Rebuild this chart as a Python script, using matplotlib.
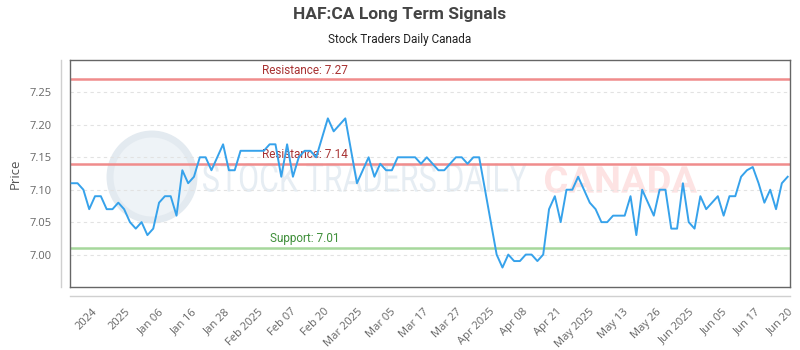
import numpy as np
import matplotlib
matplotlib.use('Agg')
import matplotlib.pyplot as plt
from matplotlib.lines import Line2D
from matplotlib.patches import Ellipse, PathPatch
from matplotlib.textpath import TextPath
from matplotlib.font_manager import FontProperties
from matplotlib.transforms import Affine2D

# closing prices (one per trading day)
prices = [7.11, 7.11, 7.10, 7.07, 7.09, 7.09, 7.07, 7.07, 7.08, 7.07, 7.05, 7.04, 7.05, 7.03, 7.04, 7.08,
          7.09, 7.09, 7.06, 7.13, 7.11, 7.12, 7.15, 7.15, 7.13, 7.15, 7.17, 7.13, 7.13, 7.16, 7.16, 7.16,
          7.16, 7.16, 7.17, 7.17, 7.12, 7.17, 7.12, 7.15, 7.16, 7.16, 7.15, 7.18, 7.21, 7.19, 7.20, 7.21,
          7.16, 7.11, 7.13, 7.15, 7.12, 7.14, 7.13, 7.13, 7.15, 7.15, 7.15, 7.15, 7.14, 7.15, 7.14, 7.13,
          7.13, 7.14, 7.15, 7.15, 7.14, 7.15, 7.15, 7.10, 7.05, 7.00, 6.98, 7.00, 6.99, 6.99, 7.00, 7.00,
          6.99, 7.00, 7.07, 7.09, 7.05, 7.10, 7.10, 7.12, 7.10, 7.08, 7.07, 7.05, 7.05, 7.06, 7.06, 7.06,
          7.09, 7.03, 7.10, 7.08, 7.06, 7.10, 7.10, 7.04, 7.04, 7.11, 7.05, 7.04, 7.09, 7.07, 7.08, 7.09,
          7.06, 7.09, 7.09, 7.12, 7.13, 7.135, 7.11, 7.08, 7.10, 7.07, 7.11, 7.12]

tick_labels = ['2024', '2025', 'Jan 06', 'Jan 16', 'Jan 28', 'Feb 2025', 'Feb 07', 'Feb 20',
               'Mar 2025', 'Mar 05', 'Mar 17', 'Mar 27', 'Apr 2025', 'Apr 08', 'Apr 21', 'May 2025',
               'May 13', 'May 26', 'Jun 2025', 'Jun 05', 'Jun 17', 'Jun 20']

resistance_high = 7.27
resistance_low = 7.14
support = 7.01

W, H = 800, 350
fig = plt.figure(figsize=(8, 3.5), dpi=100)
ax = fig.add_axes([70 / W, 63 / H, 720 / W, 227 / H])

x = np.arange(len(prices))


def watermark(text, x0, x1, y0, y1, color, weight='normal'):
    # squeeze the text into a pixel box, like the faded site logo
    tp = TextPath((0, 0), text, size=10, prop=FontProperties(family='Roboto', weight=weight))
    b = tp.get_extents()
    tr = (Affine2D().translate(-b.x0, -b.y0)
          .scale((x1 - x0) / b.width / W, (y1 - y0) / b.height / H)
          .translate(x0 / W, (H - y1) / H) + fig.transFigure)
    fig.add_artist(PathPatch(tp, transform=tr, facecolor=color, edgecolor='none', zorder=0))


# watermark
fig.add_artist(Ellipse((152 / W, (H - 177) / H), 84 / W, 86 / H, transform=fig.transFigure,
                       facecolor='#eef3f7', edgecolor='#e3eaf0', lw=5, zorder=0))
watermark('STOCK TRADERS DAILY', 203, 527, 163, 192, '#e6edf3')
watermark('CANADA', 545, 697, 166, 193, '#fde3e3', weight='bold')
ax.patch.set_alpha(0)

# signal lines
ax.axhline(resistance_high, color='#f08c8c', lw=1.8, zorder=2)
ax.axhline(resistance_low, color='#f08c8c', lw=1.8, zorder=2)
ax.axhline(support, color='#a6d89c', lw=1.8, zorder=2)
ax.text(40, resistance_high + 0.004, 'Resistance: 7.27', color='#a83232', family='Roboto',
        fontsize=8.5, ha='center', va='bottom')
ax.text(40, resistance_low + 0.004, 'Resistance: 7.14', color='#a83232', family='Roboto',
        fontsize=8.5, ha='center', va='bottom')
ax.text(40, support + 0.004, 'Support: 7.01', color='#3f8f3a', family='Roboto',
        fontsize=8.5, ha='center', va='bottom')

# price line
ax.plot(x, prices, color='#36a2eb', lw=1.4, zorder=3)

ax.set_xlim(-0.3, 123.4)
ax.set_ylim(6.95, 7.30)
ax.set_yticks([7.00, 7.05, 7.10, 7.15, 7.20, 7.25])
ax.set_yticklabels(['7.00', '7.05', '7.10', '7.15', '7.20', '7.25'], family='Open Sans',
                   fontsize=8, color='#666666')
ax.grid(axis='y', color='#e2e2e2', ls=(0, (3, 3)), lw=0.8)
ax.set_axisbelow(True)

ax.set_xticks(np.linspace(3.4, 123.1, len(tick_labels)))
ax.set_xticklabels(tick_labels, rotation=45, ha='right', va='top', rotation_mode='anchor',
                   family='Open Sans', fontsize=8, color='#666666')
ax.tick_params(axis='x', length=0, pad=14)
ax.tick_params(axis='y', length=0, pad=13)

for s in ax.spines.values():
    s.set_color('#666666')
    s.set_linewidth(1)

# offset axis lines
fig.add_artist(Line2D([61 / W, 61 / W], [63 / H, 290 / H], color='#d0d0d0', lw=1))
fig.add_artist(Line2D([70 / W, 790 / W], [54 / H, 54 / H], color='#d0d0d0', lw=1))

ax.set_ylabel('Price', family='Open Sans', fontsize=9.5, color='#555555', labelpad=6)

fig.text(0.5, 335 / H, 'HAF:CA Long Term Signals', family='Roboto', fontsize=12.5,
         fontweight='bold', color='#444444', ha='center', va='center')
fig.text(0.5, 310 / H, 'Stock Traders Daily Canada', family='Roboto', fontsize=8.5,
         color='#222222', ha='center', va='center')

fig.savefig('out.png', dpi=100)
